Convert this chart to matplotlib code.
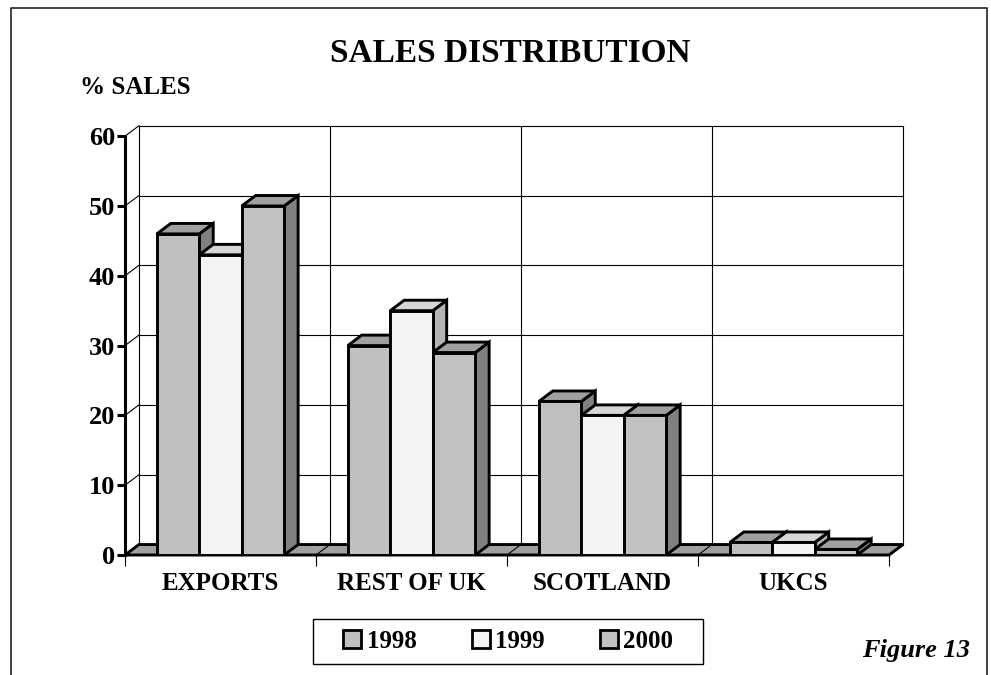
import matplotlib
matplotlib.use("Agg")
import matplotlib.pyplot as plt
from matplotlib.patches import Polygon, Rectangle
from matplotlib.lines import Line2D

plt.rcParams['font.family'] = ['Liberation Serif', 'DejaVu Serif']
plt.rcParams['font.weight'] = 'bold'

# data
categories = ["EXPORTS", "REST OF UK", "SCOTLAND", "UKCS"]
years = ["1998", "1999", "2000"]
sales_1998 = [46, 30, 22, 1.8]
sales_1999 = [43, 35, 20, 1.8]
sales_2000 = [50, 29, 20, 0.8]
y_ticks = [0, 10, 20, 30, 40, 50, 60]

series = [sales_1998, sales_1999, sales_2000]
front_cols = ["#c0c0c0", "#f4f4f4", "#c2c2c2"]
top_cols = ["#a0a0a0", "#d6d6d6", "#a0a0a0"]
side_cols = ["#808080", "#b4b4b4", "#808080"]

# fake 3d depth (in data units)
dx = 0.073
dy = 1.5
ymax = 60
ncat = len(categories)
gap = 1 / 6
w = (1 - 2 * gap) / len(series)

fig = plt.figure(figsize=(9.91, 6.75), dpi=100)
ax = fig.add_axes([125 / 991, 120 / 675, 778 / 991, 429.3 / 675])
ax.set_xlim(0, ncat + dx)
ax.set_ylim(0, ymax + dy)
for s in ax.spines.values():
    s.set_visible(False)

lw_thin = 0.8
lw_bold = 2.1

# back wall and left wall
for v in y_ticks:
    ax.plot([dx, ncat + dx], [v + dy, v + dy], color="black", lw=lw_thin, zorder=1, clip_on=False)
    ax.plot([0, dx], [v, v + dy], color="black", lw=lw_thin, zorder=1, clip_on=False)
for k in range(ncat + 1):
    ax.plot([k + dx, k + dx], [dy, ymax + dy], color="black", lw=lw_thin, zorder=1, clip_on=False)

# floor
floor = Polygon([(0, 0), (ncat, 0), (ncat + dx, dy), (dx, dy)], closed=True,
                facecolor="#a0a0a0", edgecolor="black", lw=lw_bold, zorder=2, clip_on=False)
ax.add_patch(floor)
for k in range(1, ncat):
    ax.plot([k, k + dx], [0, dy], color="black", lw=lw_thin, zorder=2.1)

# bars
handles = []
for j, vals in enumerate(series):
    xs = [i + gap + j * w for i in range(ncat)]
    bars = ax.bar(xs, vals, width=w, align="edge", color=front_cols[j],
                  edgecolor="black", lw=lw_bold, label=years[j])
    handles.append(bars)
    for i, (x0, h, rect) in enumerate(zip(xs, vals, bars)):
        z = 3 + (i * len(series) + j) * 0.1
        side = Polygon([(x0 + w, 0), (x0 + w + dx, dy), (x0 + w + dx, h + dy), (x0 + w, h)],
                       closed=True, facecolor=side_cols[j], edgecolor="black",
                       lw=lw_bold, joinstyle="miter", zorder=z)
        top = Polygon([(x0, h), (x0 + w, h), (x0 + w + dx, h + dy), (x0 + dx, h + dy)],
                      closed=True, facecolor=top_cols[j], edgecolor="black",
                      lw=lw_bold, joinstyle="miter", zorder=z + 0.01)
        ax.add_patch(side)
        ax.add_patch(top)
        rect.set_zorder(z + 0.02)
        rect.set_joinstyle("miter")

# front axes lines
ax.plot([0, 0], [0, ymax], color="black", lw=2.2, zorder=10, clip_on=False)
ax.plot([0, ncat], [0, 0], color="black", lw=lw_thin, zorder=10, clip_on=False)

ax.set_yticks(y_ticks)
ax.set_yticklabels([str(v) for v in y_ticks])
ax.tick_params(axis="y", length=6, width=2.2, pad=1, labelsize=19)
ax.set_xticks(range(ncat + 1))
ax.set_xticklabels([""] * (ncat + 1))
ax.set_xticks([i + 0.5 for i in range(ncat)], minor=True)
ax.set_xticklabels(categories, minor=True)
ax.tick_params(axis="x", which="major", length=8, width=0.8)
ax.tick_params(axis="x", which="minor", length=0, pad=12, labelsize=18)

fig.text(0.515, 0.921, "SALES DISTRIBUTION", ha="center", va="center", fontsize=24)
fig.text(80 / 991, 0.870, "% SALES", ha="left", va="center", fontsize=18)
fig.text(970 / 991, 0.037, "Figure 13", ha="right", va="center", fontsize=19, style="italic")

# legend (frame drawn separately so its size matches the original box)
leg = fig.legend(handles=handles, labels=years, loc="center", bbox_to_anchor=(0.513, 0.0496),
                 ncol=3, frameon=False, fontsize=18, handlelength=0.72,
                 handleheight=0.72, handletextpad=0.22, columnspacing=2.2)
for p in leg.get_patches():
    p.set_linewidth(2)
fig.add_artist(Rectangle((313 / 991, 11 / 675), 390 / 991, 45 / 675, transform=fig.transFigure,
                         fill=False, edgecolor="black", lw=1.0))

# outer border (open at bottom)
fig.add_artist(Line2D([11 / 991, 11 / 991, 987 / 991, 987 / 991],
                      [0, 1 - 8 / 675, 1 - 8 / 675, 0], color="#222222", lw=1.2))

fig.savefig("out.png", dpi=100)
